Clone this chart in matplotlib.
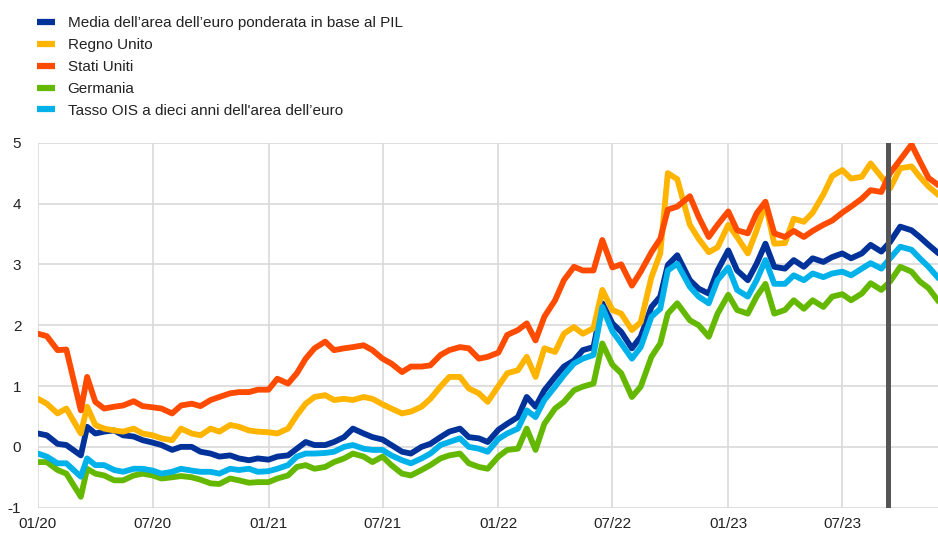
import matplotlib
matplotlib.use("Agg")
import matplotlib.pyplot as plt
import matplotlib.dates as mdates
import pandas as pd

# ---------------- data ----------------
years = [2020, 2021, 2022, 2023]
date_overrides = {"2020-03-01": "2020-03-09", "2020-03-15": "2020-03-19",
                  "2022-10-01": "2022-09-27", "2022-10-15": "2022-10-12",
                  "2023-10-15": "2023-10-19"}
last_date = "2023-12-01"

labels = ["Media dell\u2019area dell\u2019euro ponderata in base al PIL",
          "Regno Unito",
          "Stati Uniti",
          "Germania",
          "Tasso OIS a dieci anni dell'area dell\u2019euro"]

euro_gdp = [0.22, 0.19, 0.05, 0.03, -0.14, 0.33, 0.22, 0.25, 0.27, 0.19, 0.17, 0.11,
            0.07, 0.03, -0.05, 0.00, 0.00, -0.08, -0.11, -0.16, -0.14, -0.19, -0.22, -0.19,
            -0.21, -0.16, -0.14, -0.03, 0.08, 0.03, 0.03, 0.08, 0.16, 0.30, 0.22, 0.16,
            0.12, 0.03, -0.08, -0.11, 0.00, 0.05, 0.16, 0.25, 0.30, 0.16, 0.14, 0.08,
            0.28, 0.38, 0.49, 0.82, 0.66, 0.93, 1.15, 1.32, 1.42, 1.59, 1.64, 2.36,
            2.03, 1.89, 1.62, 1.81, 2.30, 2.47, 2.99, 3.15, 2.74, 2.60, 2.52, 2.90,
            3.23, 2.90, 2.74, 3.01, 3.34, 2.96, 2.93, 3.07, 2.96, 3.10, 3.04, 3.12,
            3.18, 3.10, 3.18, 3.32, 3.21, 3.37, 3.62, 3.56, 3.45, 3.32, 3.18]

uk = [0.79, 0.71, 0.55, 0.63, 0.22, 0.66, 0.36, 0.30, 0.27, 0.25, 0.30, 0.22,
      0.19, 0.14, 0.11, 0.30, 0.22, 0.19, 0.30, 0.25, 0.36, 0.33, 0.27, 0.25,
      0.24, 0.22, 0.30, 0.52, 0.71, 0.82, 0.85, 0.77, 0.79, 0.77, 0.82, 0.79,
      0.70, 0.63, 0.55, 0.58, 0.66, 0.79, 0.99, 1.15, 1.15, 0.96, 0.88, 0.74,
      1.00, 1.21, 1.26, 1.48, 1.15, 1.62, 1.56, 1.86, 1.97, 1.86, 1.95, 2.58,
      2.25, 2.19, 1.92, 2.05, 2.79, 3.18, 4.50, 4.40, 3.65, 3.42, 3.20, 3.28,
      3.65, 3.45, 3.18, 3.56, 4.00, 3.34, 3.35, 3.75, 3.70, 3.85, 4.15, 4.45,
      4.55, 4.41, 4.44, 4.66, 4.44, 4.25, 4.58, 4.61, 4.44, 4.28, 4.14]

us = [1.86, 1.82, 1.59, 1.60, 0.60, 1.15, 0.74, 0.63, 0.66, 0.68, 0.75, 0.67,
      0.65, 0.63, 0.55, 0.68, 0.71, 0.67, 0.77, 0.82, 0.88, 0.90, 0.90, 0.94,
      0.94, 1.12, 1.04, 1.21, 1.45, 1.62, 1.73, 1.59, 1.62, 1.64, 1.67, 1.59,
      1.45, 1.37, 1.23, 1.32, 1.32, 1.34, 1.51, 1.59, 1.64, 1.62, 1.45, 1.48,
      1.55, 1.84, 1.92, 2.03, 1.75, 2.14, 2.41, 2.74, 2.96, 2.90, 2.90, 3.40,
      2.95, 3.00, 2.65, 2.88, 3.20, 3.42, 3.90, 3.95, 4.12, 3.78, 3.45, 3.65,
      3.87, 3.56, 3.51, 3.84, 4.03, 3.51, 3.45, 3.55, 3.45, 3.55, 3.65, 3.72,
      3.85, 3.95, 4.08, 4.22, 4.19, 4.50, 4.72, 4.97, 4.70, 4.42, 4.30]

germany = [-0.25, -0.25, -0.38, -0.44, -0.82, -0.36, -0.44, -0.47, -0.55, -0.55, -0.47, -0.44,
           -0.47, -0.52, -0.50, -0.48, -0.50, -0.54, -0.60, -0.61, -0.52, -0.55, -0.59, -0.58,
           -0.58, -0.52, -0.47, -0.33, -0.30, -0.36, -0.33, -0.25, -0.19, -0.11, -0.16, -0.25,
           -0.16, -0.30, -0.44, -0.47, -0.38, -0.30, -0.19, -0.14, -0.11, -0.27, -0.33, -0.36,
           -0.16, -0.05, -0.03, 0.30, -0.05, 0.38, 0.63, 0.74, 0.93, 0.99, 1.04, 1.70,
           1.35, 1.21, 0.82, 0.99, 1.48, 1.70, 2.19, 2.36, 2.08, 2.00, 1.81, 2.19,
           2.50, 2.25, 2.19, 2.47, 2.68, 2.19, 2.25, 2.41, 2.27, 2.41, 2.30, 2.47,
           2.51, 2.41, 2.52, 2.69, 2.58, 2.72, 2.96, 2.88, 2.72, 2.61, 2.39]

ois = [-0.11, -0.16, -0.27, -0.27, -0.49, -0.19, -0.30, -0.30, -0.38, -0.41, -0.36, -0.36,
       -0.39, -0.44, -0.41, -0.36, -0.39, -0.41, -0.41, -0.44, -0.36, -0.38, -0.36, -0.41,
       -0.40, -0.36, -0.30, -0.16, -0.11, -0.11, -0.10, -0.08, 0.00, 0.03, -0.03, -0.05,
       -0.05, -0.14, -0.22, -0.27, -0.19, -0.11, 0.03, 0.08, 0.14, 0.00, -0.03, -0.08,
       0.13, 0.22, 0.30, 0.60, 0.49, 0.77, 0.99, 1.18, 1.37, 1.45, 1.51, 2.30,
       1.90, 1.70, 1.45, 1.64, 2.14, 2.27, 2.90, 3.01, 2.63, 2.47, 2.36, 2.74,
       2.95, 2.58, 2.47, 2.74, 3.07, 2.68, 2.68, 2.82, 2.74, 2.85, 2.79, 2.85,
       2.88, 2.82, 2.93, 3.02, 2.93, 3.10, 3.29, 3.24, 3.10, 2.96, 2.77]

marker_date = "2023-09-12"
y_ticks = [-1, 0, 1, 2, 3, 4, 5]
x_tick_dates = ["2020-01-01", "2020-07-01", "2021-01-01", "2021-07-01", "2022-01-01",
                "2022-07-01", "2023-01-01", "2023-07-01"]

# ---------------- dates ----------------
date_strs = []
for y in years:
    for m in range(1, 13):
        for d in (1, 15):
            s = f"{y}-{m:02d}-{d:02d}"
            if s > last_date:
                continue
            date_strs.append(date_overrides.get(s, s))
dates = pd.to_datetime(date_strs)

series = [euro_gdp, uk, us, germany, ois]
colors = ["#003299", "#ffb400", "#ff4b00", "#65b800", "#00b1ea"]

# ---------------- plot ----------------
plt.rcParams["font.family"] = ["Liberation Sans", "DejaVu Sans"]
plt.rcParams["axes.unicode_minus"] = False

fig = plt.figure(figsize=(9.38, 5.35), dpi=100)
ax = fig.add_axes([38 / 938, 1 - 507.7 / 535, 1 - 38 / 938, (507.7 - 142.7) / 535])

handles = []
for vals, col, lab in zip(series, colors, labels):
    h, = ax.plot(dates, vals, color=col, lw=4.2, label=lab, solid_joinstyle="round",
                 solid_capstyle="round")
    handles.append(h)

ax.axvline(pd.Timestamp(marker_date), color="#555555", lw=3.6, zorder=5)

ax.set_ylim(-1, 5)
ax.set_xlim(pd.Timestamp("2020-01-01"), pd.Timestamp("2023-11-30"))
ax.set_yticks(y_ticks)
ax.set_yticklabels([str(v) for v in y_ticks])
ax.set_xticks(pd.to_datetime(x_tick_dates))
ax.xaxis.set_major_formatter(mdates.DateFormatter("%m/%y"))
ax.grid(True, color="#d9d9d9", lw=1.2)
ax.set_axisbelow(True)
for sp in ax.spines.values():
    sp.set_visible(False)
ax.tick_params(axis="both", length=0, labelsize=11, colors="#222222")
ax.tick_params(axis="y", pad=12)
ax.tick_params(axis="x", pad=7)

leg = fig.legend(handles=handles, loc="upper left", bbox_to_anchor=(0.028, 0.99),
                 frameon=False, fontsize=11, handlelength=1.2, handletextpad=0.8,
                 labelspacing=0.52, borderaxespad=0.3)
for t in leg.get_texts():
    t.set_color("#222222")
for lh in leg.get_lines():
    lh.set_linewidth(4.5)
    lh.set_solid_capstyle("butt")

fig.savefig("out.png", dpi=100)
